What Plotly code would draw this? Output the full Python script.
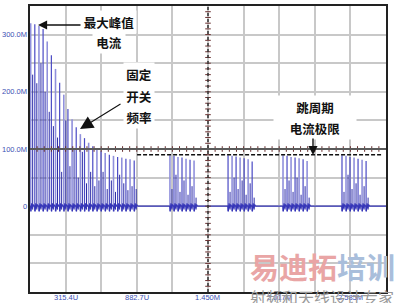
import plotly.graph_objects as go

# ---------------- data ----------------
x_min, x_max = 31.7, 2868.7          # time axis (µs)
y_min, y_max = -150, 350             # current axis (M)
grid_x = [315.4, 599.1, 882.7, 1166.4, 1450.0, 1733.7, 2017.3, 2301.0, 2584.7]
grid_x_text = ["315.4U", "", "882.7U", "", "1.450M", "", "2.017M", "", "2.585M"]
grid_y = [-100, -50, 0, 50, 100, 150, 200, 250, 300]
grid_y_text = ["", "", "0", "", "100.0M", "", "200.0M", "", "300.0M"]

# fixed switching frequency phase: spike times (µs) and peak currents
fixed_t = [37, 70, 103, 136, 169, 202, 235, 268, 301, 334, 367, 400, 433,
           466, 499, 532, 565, 598, 631, 664, 697, 730, 763, 796, 829, 862]
fixed_peak = [320, 318, 315, 310, 288, 264, 240, 216, 195, 170, 152, 138, 126,
              119, 111, 105, 99, 96, 93, 90, 88, 86, 85, 83, 82, 80]
fixed_inner = [230, 215, 250, 200, 165, 140, 120, 60, 150, 70, 100, 50, 95,
               40, 60, 35, 45, 60, 30, 45, 25, 55, 40, 28, 35, 30]

# skip-cycle bursts
burst_start = [1147, 1610, 2048, 2518]
burst_offset = [0, 32, 64, 96, 128, 160, 192]
burst_peak = [[89, 88, 86, 85, 83, 81, 80],
              [89, 88, 87, 85, 84, 82, 78],
              [89, 88, 86, 85, 84, 82, 79],
              [89, 88, 86, 85, 83, 81, 79]]
burst_inner = [[30, 55, 25, 45, 20, 35, 15],
               [25, 50, 30, 45, 20, 40, 15],
               [30, 45, 25, 50, 20, 35, 15],
               [25, 55, 30, 40, 20, 35, 15]]

skip_limit = 90
skip_limit_x = [885, 2845]
ring = [(-1, 0), (2, -9), (8, 5), (14, -4), (20, 3), (28, 0)]

# ---------------- build ----------------
times, peaks, inners = list(fixed_t), list(fixed_peak), list(fixed_inner)
for s, pk, inn in zip(burst_start, burst_peak, burst_inner):
    for o, p, q in zip(burst_offset, pk, inn):
        times.append(s + o); peaks.append(p); inners.append(q)

rx, ry = [x_min], [0]
for t in times:
    for dx, dy in ring:
        rx.append(t + dx); ry.append(dy)
rx.append(x_max); ry.append(0)

lx, ly, dx_, dy_, ix, iy = [], [], [], [], [], []
for i, (t, p, q) in enumerate(zip(times, peaks, inners)):
    if i % 2 == 0:
        lx += [t, t, None]; ly += [-9, p, None]
    else:
        dx_ += [t, t, None]; dy_ += [-9, p, None]
    ix += [t + 16, t + 16, None]; iy += [-6, q, None]

fig = go.Figure()
fig.add_trace(go.Scatter(x=lx, y=ly, mode="lines", line=dict(color="#9090dc", width=1.6),
                         hoverinfo="skip", showlegend=False))
fig.add_trace(go.Scatter(x=dx_, y=dy_, mode="lines", line=dict(color="#4a4ac4", width=1.2),
                         hoverinfo="skip", showlegend=False))
fig.add_trace(go.Scatter(x=ix, y=iy, mode="lines", line=dict(color="#2e2ea6", width=1),
                         hoverinfo="skip", showlegend=False))
fig.add_trace(go.Scatter(x=rx, y=ry, mode="lines", line=dict(color="#3535b8", width=1.2),
                         hoverinfo="skip", showlegend=False))

# skip-cycle current limit (dashed)
fig.add_trace(go.Scatter(x=skip_limit_x, y=[skip_limit, skip_limit], mode="lines",
                         line=dict(color="#111", width=1.5, dash="4px,2px"),
                         hoverinfo="skip", showlegend=False))

# oscilloscope centre lines with ticks
xc = (x_min + x_max) / 2
yc = (y_min + y_max) / 2
step_x = (x_max - x_min) / 50
step_y = (y_max - y_min) / 50
fig.add_shape(type="line", x0=x_min, x1=x_max, y0=yc, y1=yc,
              line=dict(color="#5a5a5a", width=2), layer="above")
fig.add_shape(type="line", x0=xc, x1=xc, y0=y_min, y1=y_max,
              line=dict(color="#333", width=1.5, dash="dot"), layer="above")
fig.add_trace(go.Scatter(x=[x_min + k * step_x for k in range(1, 50)], y=[yc] * 49,
                         mode="markers", marker=dict(symbol="line-ns", size=4,
                         line=dict(color="#6a3030", width=1)), hoverinfo="skip", showlegend=False))
fig.add_trace(go.Scatter(x=[xc] * 49, y=[y_min + k * step_y for k in range(1, 50)],
                         mode="markers", marker=dict(symbol="line-ew", size=4,
                         line=dict(color="#6a3030", width=1)), hoverinfo="skip", showlegend=False))

W, H = 400, 303
L, R, T, B = 30, 14, 6, 11
pw, ph = W - L - R, H - T - B


def px(x):
    return (x - L) / pw


def py(y):
    return (H - B - y) / ph


cjk = "Noto Sans CJK SC"
tick_font = dict(family="Liberation Sans", size=7.5, color="#3c50b4")
ann = []
# axis tick labels (placed tight to the frame like the scope software)
for v, t in zip(grid_x, grid_x_text):
    if t:
        ann.append(dict(text=t, x=v, y=py(297), xref="x", yref="paper", showarrow=False,
                        font=tick_font, xanchor="center", yanchor="middle"))
for v, t in zip(grid_y, grid_y_text):
    if t:
        ann.append(dict(text=t, x=px(29), y=v, xref="paper", yref="y", showarrow=False,
                        font=tick_font, xanchor="right", yanchor="middle"))

for txt, cx, cy, w in [("最大峰值", 109, 22, 52), ("电流", 109, 42, 30),
                       ("固定", 139, 74, 28), ("开关", 139, 96, 28), ("频率", 139, 117, 28),
                       ("跳周期", 315, 107, 80), ("电流极限", 315, 128, 80)]:
    ann.append(dict(text=txt, x=px(cx), y=py(cy), xref="paper", yref="paper",
                    showarrow=False, font=dict(family=cjk, size=12.5, color="#111", weight="bold"),
                    bgcolor="white", width=w, height=20, xanchor="center", yanchor="middle"))
# arrows
ann.append(dict(text="", x=px(38), y=py(25), xref="paper", yref="paper", ax=44, ay=0,
                showarrow=True, arrowhead=2, arrowsize=1.3, arrowwidth=1.4, arrowcolor="#111"))
ann.append(dict(text="", x=px(80), y=py(129), xref="paper", yref="paper", ax=42, ay=-26,
                showarrow=True, arrowhead=2, arrowsize=2.4, arrowwidth=1.1, arrowcolor="#111"))
ann.append(dict(text="", x=px(313), y=py(155), xref="paper", yref="paper", ax=0, ay=-18,
                showarrow=True, arrowhead=2, arrowsize=1.3, arrowwidth=1.4, arrowcolor="#111"))
# watermark
ann.append(dict(text='<span style="color:#e9a5a5">易迪拓</span><span style="color:#a9bedb">培训</span>',
                x=px(322), y=py(266), xref="paper", yref="paper", showarrow=False,
                font=dict(family=cjk, size=29, color="#e9a5a5", weight="bold"),
                xanchor="center", yanchor="middle"))
ann.append(dict(text="射频和天线设计专家", x=px(322), y=py(297), xref="paper", yref="paper",
                showarrow=False, font=dict(family=cjk, size=16, color="#9a9a9a"),
                xanchor="center", yanchor="middle"))

fig.update_layout(
    width=W, height=H, margin=dict(l=L, r=R, t=T, b=B, autoexpand=False),
    paper_bgcolor="white", plot_bgcolor="white",
    annotations=ann, showlegend=False,
    xaxis=dict(range=[x_min, x_max], tickvals=grid_x, showticklabels=False,
               showgrid=True, gridcolor="#c8c8c8", gridwidth=1.5, zeroline=False,
               showline=True, mirror=True, linecolor="#222", linewidth=2, automargin=False,
               ticks=""),
    yaxis=dict(range=[y_min, y_max], tickvals=grid_y, showticklabels=False,
               showgrid=True, gridcolor="#c8c8c8", gridwidth=1.5, zeroline=False,
               showline=True, mirror=True, linecolor="#222", linewidth=2, automargin=False,
               ticks=""),
)
fig.write_html("out.html")
